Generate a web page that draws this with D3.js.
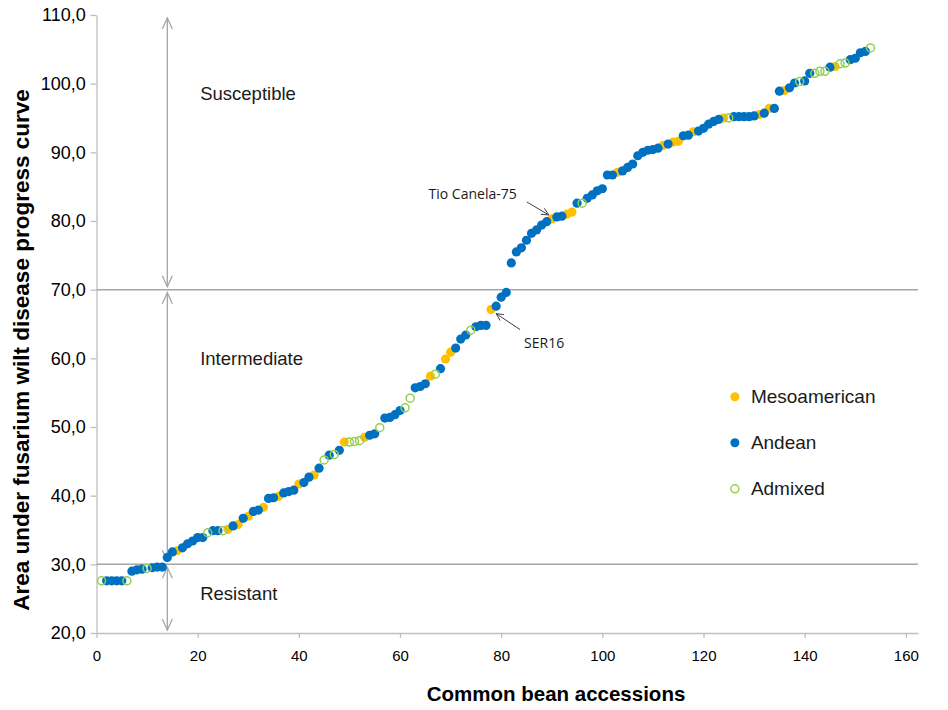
<!DOCTYPE html>
<html>
<head>
<meta charset="utf-8">
<script src="https://cdn.jsdelivr.net/npm/d3@7"></script>
<style>
  body { margin: 0; background: #fff; }
  text { font-family: "Liberation Sans", Arial, sans-serif; }
</style>
</head>
<body>
<div id="chart"></div>
<script>
// AUDPC values, accessions ranked 1..153
var audpc = [
  27.6, 27.6, 27.6, 27.6, 27.6, 27.6, 29.0, 29.2, 29.3, 29.4,
  29.5, 29.6, 29.6, 31.0, 31.8, 32.0, 32.4, 33.0, 33.4, 33.9,
  33.9, 34.6, 34.9, 34.9, 34.9, 35.1, 35.6, 35.8, 36.7, 37.0,
  37.7, 37.9, 38.3, 39.6, 39.7, 39.9, 40.4, 40.6, 40.8, 41.7,
  41.9, 42.7, 43.0, 44.0, 45.2, 45.9, 46.0, 46.6, 47.8, 47.8,
  47.9, 48.0, 48.5, 48.8, 49.0, 49.9, 51.3, 51.4, 51.8, 52.4,
  52.8, 54.2, 55.7, 55.9, 56.3, 57.4, 57.7, 58.5, 59.9, 60.9,
  61.5, 62.8, 63.4, 64.1, 64.6, 64.8, 64.8, 67.1, 67.6, 68.9,
  69.6, 73.9, 75.5, 76.1, 77.2, 78.2, 78.7, 79.4, 79.9, 80.3,
  80.6, 80.7, 81.0, 81.3, 82.6, 82.6, 83.3, 83.8, 84.4, 84.7,
  86.7, 86.7, 87.1, 87.3, 87.8, 88.3, 89.5, 90.0, 90.3, 90.4,
  90.6, 91.0, 91.2, 91.5, 91.6, 92.4, 92.5, 93.0, 93.1, 93.5,
  94.1, 94.5, 94.8, 95.0, 95.0, 95.2, 95.2, 95.2, 95.2, 95.3,
  95.5, 95.7, 96.4, 96.4, 98.9, 99.0, 99.4, 100.1, 100.3, 100.4,
  101.5, 101.5, 101.8, 101.8, 102.4, 102.5, 102.9, 103.0, 103.5, 103.7,
  104.5, 104.7, 105.2
];

// gene pool of each accession: M = Mesoamerican, N = Andean, A = Admixed
var pool = [
  "A","N","N","N","N","A","N","N","N","A",
  "N","N","N","N","N","M","N","N","N","N",
  "N","A","N","N","A","M","N","M","N","M",
  "N","N","M","N","N","M","N","N","N","M",
  "N","N","M","N","A","N","A","N","M","A",
  "A","A","M","N","N","A","N","N","N","N",
  "A","A","N","N","N","M","A","N","M","M",
  "N","N","N","A","N","N","N","M","N","N",
  "N","N","N","N","N","N","N","N","N","M",
  "N","N","M","M","N","A","N","N","N","N",
  "N","N","M","N","N","N","N","N","N","N",
  "N","M","N","M","M","N","N","M","N","N",
  "N","N","N","M","A","N","N","N","N","N",
  "M","N","M","N","N","M","N","N","A","N",
  "N","A","A","A","N","M","A","A","N","N",
  "N","N","A"
];

var groups = ["Mesoamerican", "Andean", "Admixed"];
var groupCodes = ["M", "N", "A"];
var xTicks = [0, 20, 40, 60, 80, 100, 120, 140, 160];
var yTicks = [20, 30, 40, 50, 60, 70, 80, 90, 100, 110];
var thresholds = [30, 70];
var classes = [
  { name: "Susceptible", from: 110, to: 70, labelY: 98.6 },
  { name: "Intermediate", from: 70, to: 30, labelY: 60.0 },
  { name: "Resistant", from: 30, to: 20, labelY: 25.8 }
];
var callouts = [
  { name: "Tio Canela-75", rank: 90 },
  { name: "SER16", rank: 78 }
];

var data = audpc.map(function(v, i) {
  return { rank: i + 1, auc: v, pool: pool[i] };
});

var svgWidth = 948, svgHeight = 710;
var margin = { top: 15, right: 30, bottom: 77, left: 96.5 };

var svg = d3.select("#chart").append("svg")
  .attr("width", svgWidth)
  .attr("height", svgHeight);

var x = d3.scaleLinear()
  .domain([0, 162.4])
  .range([margin.left, svgWidth - margin.right]);

var y = d3.scaleLinear()
  .domain([20, 110])
  .range([svgHeight - margin.bottom, margin.top]);

var fmt = function(d) { return d3.format(".1f")(d).replace(".", ","); };

// axes
var axisColor = "#bfbfbf";
var bottomAxis = svg.append("g")
  .attr("transform", `translate(0, ${y(20)})`)
  .call(d3.axisBottom(x).tickValues(xTicks).tickSize(5).tickSizeOuter(0));

var leftAxis = svg.append("g")
  .attr("transform", `translate(${x(0)}, 0)`)
  .call(d3.axisLeft(y).tickValues(yTicks).tickFormat(fmt).tickSize(6).tickSizeOuter(0));

[bottomAxis, leftAxis].forEach(function(ax) {
  ax.select(".domain").attr("stroke", axisColor).attr("stroke-width", 1.3);
  ax.selectAll(".tick line").attr("stroke", axisColor).attr("stroke-width", 1.3);
  ax.selectAll(".tick text")
    .attr("fill", "#000")
    .style("font-family", "'Liberation Sans', Arial, sans-serif");
});
bottomAxis.selectAll(".tick text").attr("dy", "1.3em").style("font-size", "15px");
leftAxis.selectAll(".tick text").attr("dx", "-0.1em").style("font-size", "18px");

// threshold lines
svg.selectAll(".threshold")
  .data(thresholds)
  .enter()
  .append("line")
  .attr("x1", x(0))
  .attr("x2", x(162.4))
  .attr("y1", d => y(d))
  .attr("y2", d => y(d))
  .attr("stroke", "#a6a6a6")
  .attr("stroke-width", 1.5);

// double arrows for the resistance classes
var arrowX = x(14);
var arrowColor = "#a6a6a6";
function arrowHead(g, px, py, dir) {
  // dir = -1 points up, 1 points down
  g.append("path")
    .attr("d", `M${px - 5},${py - dir * 11} L${px},${py} L${px + 5},${py - dir * 11}`)
    .attr("fill", "none")
    .attr("stroke", arrowColor)
    .attr("stroke-width", 1.3);
}
classes.forEach(function(c) {
  var g = svg.append("g");
  var top = y(c.from) + 3, bot = y(c.to) - 3;
  g.append("line")
    .attr("x1", arrowX).attr("x2", arrowX)
    .attr("y1", top).attr("y2", bot)
    .attr("stroke", arrowColor)
    .attr("stroke-width", 1.3);
  arrowHead(g, arrowX, top, -1);
  arrowHead(g, arrowX, bot, 1);
  svg.append("text")
    .attr("x", x(20.5))
    .attr("y", y(c.labelY))
    .attr("dy", "0.35em")
    .style("font-size", "18.5px")
    .attr("fill", "#1a1a1a")
    .text(c.name);
});

// points
var colors = { M: "#ffc000", N: "#0070c0", A: "#92d050" };
groupCodes.forEach(function(code) {
  svg.append("g").selectAll("circle")
    .data(data.filter(d => d.pool === code))
    .enter()
    .append("circle")
    .attr("cx", d => x(d.rank))
    .attr("cy", d => y(d.auc))
    .attr("r", code === "A" ? 4 : 4.6)
    .attr("fill", code === "A" ? "none" : colors[code])
    .attr("stroke", code === "A" ? colors[code] : "none")
    .attr("stroke-width", 1.5);
});

// callouts
var tio = data[callouts[0].rank - 1];
var ser = data[callouts[1].rank - 1];
function calloutArrow(x1, y1, x2, y2) {
  svg.append("line")
    .attr("x1", x1).attr("y1", y1).attr("x2", x2).attr("y2", y2)
    .attr("stroke", "#404040").attr("stroke-width", 1);
  var ang = Math.atan2(y2 - y1, x2 - x1);
  var len = 8, spread = 0.45;
  svg.append("path")
    .attr("d", `M${x2 - len * Math.cos(ang - spread)},${y2 - len * Math.sin(ang - spread)} L${x2},${y2} L${x2 - len * Math.cos(ang + spread)},${y2 - len * Math.sin(ang + spread)}`)
    .attr("fill", "none")
    .attr("stroke", "#404040").attr("stroke-width", 1);
}
calloutArrow(x(tio.rank) - 25, y(tio.auc) - 17, x(tio.rank) - 3, y(tio.auc) - 4);
svg.append("text")
  .attr("x", x(tio.rank) - 35)
  .attr("y", y(tio.auc) - 20)
  .attr("text-anchor", "end")
  .style("font-size", "14px")
  .style("font-family", "'Open Sans', 'Liberation Sans', sans-serif")
  .attr("fill", "#1a1a1a")
  .text(callouts[0].name);

calloutArrow(x(ser.rank) + 29, y(ser.auc) + 20, x(ser.rank) + 5, y(ser.auc) + 4);
svg.append("text")
  .attr("x", x(ser.rank) + 33)
  .attr("y", y(ser.auc) + 38)
  .style("font-size", "14px")
  .style("font-family", "'Open Sans', 'Liberation Sans', sans-serif")
  .attr("fill", "#1a1a1a")
  .text(callouts[1].name);

// legend
var legend = svg.append("g")
  .attr("transform", `translate(${x(126.2)}, ${y(54.4)})`);
groups.forEach(function(name, i) {
  var code = groupCodes[i];
  var row = legend.append("g").attr("transform", `translate(0, ${i * 46})`);
  row.append("circle")
    .attr("r", code === "A" ? 4 : 4.5)
    .attr("fill", code === "A" ? "none" : colors[code])
    .attr("stroke", code === "A" ? colors[code] : "none")
    .attr("stroke-width", 1.5);
  row.append("text")
    .attr("x", 16)
    .attr("dy", "0.35em")
    .style("font-size", "19px")
    .attr("fill", "#1a1a1a")
    .text(name);
});

// axis titles
svg.append("text")
  .attr("x", 556)
  .attr("y", 701)
  .attr("text-anchor", "middle")
  .style("font-size", "20.5px")
  .style("font-weight", "bold")
  .text("Common bean accessions");

svg.append("text")
  .attr("transform", "translate(29, 350) rotate(-90)")
  .attr("text-anchor", "middle")
  .style("font-size", "22.5px")
  .style("font-weight", "bold")
  .text("Area under fusarium wilt disease progress curve");
</script>
</body>
</html>
